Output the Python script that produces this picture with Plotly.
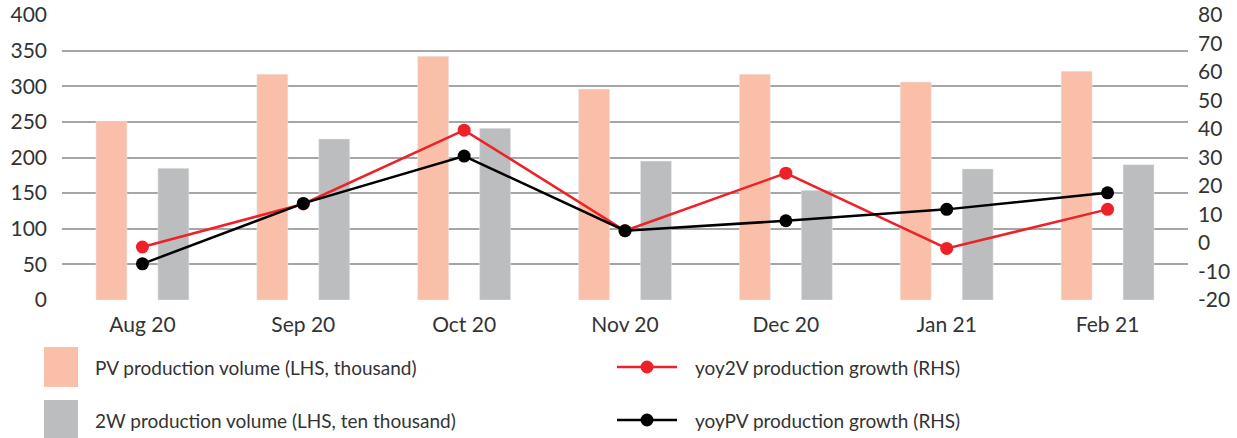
import plotly.graph_objects as go

months = ["Aug 20", "Sep 20", "Oct 20", "Nov 20", "Dec 20", "Jan 21", "Feb 21"]
pv_volume = [251, 317, 342, 296, 317, 306, 321]
w2_volume = [185, 226, 241, 195, 154, 184, 190]
yoy_2v = [-1.4, 13.7, 39.6, 4.3, 24.5, -1.9, 11.8]
yoy_pv = [-7.3, 13.9, 30.5, 4.3, 7.8, 11.8, 17.6]
left_ticks = [0, 50, 100, 150, 200, 250, 300, 350, 400]
right_ticks = [-20, -10, 0, 10, 20, 30, 40, 50, 60, 70, 80]

names = ["PV production volume (LHS, thousand)",
         "2W production volume (LHS, ten thousand)",
         "yoy2V production growth (RHS)",
         "yoyPV production growth (RHS)"]

C_PV = "#F9BFA8"
C_2W = "#BCBDBF"
C_RED = "#EE2128"
C_BLK = "#000000"
FONT = "Lato"
TXT = "#333333"

W, H = 1237, 438
# plot area in window pixels: x 62..1188, y 15..300
ML, MT = 62, 15
MR = W - 1188
MB = H - 300
PW, PH = W - ML - MR, H - MT - MB


def px(x):
    return (x - ML) / PW


def py(y):
    return (H - MB - y) / PH


fig = go.Figure()
fig.add_trace(go.Bar(x=months, y=pv_volume, name=names[0], marker_color=C_PV,
                     showlegend=False))
fig.add_trace(go.Bar(x=months, y=w2_volume, name=names[1], marker_color=C_2W,
                     showlegend=False))
fig.add_trace(go.Scatter(x=months, y=yoy_2v, name=names[2], yaxis="y2",
                         mode="lines+markers",
                         line=dict(color=C_RED, width=2.5),
                         marker=dict(color=C_RED, size=13), showlegend=False))
fig.add_trace(go.Scatter(x=months, y=yoy_pv, name=names[3], yaxis="y2",
                         mode="lines+markers",
                         line=dict(color=C_BLK, width=2.5),
                         marker=dict(color=C_BLK, size=13), showlegend=False))

shapes = []
annotations = []
rows = [367, 420]
for (color, row, label) in [(C_PV, rows[0], names[0]), (C_2W, rows[1], names[1])]:
    shapes.append(dict(type="rect", xref="paper", yref="paper",
                       x0=px(44), x1=px(78), y0=py(row - 20), y1=py(row + 20),
                       fillcolor=color, line=dict(width=0), layer="above"))
    annotations.append(dict(xref="paper", yref="paper", x=px(93), y=py(row),
                            xanchor="left", yanchor="middle", text=label,
                            showarrow=False, font=dict(family=FONT, size=19, color=TXT)))
for (color, row, label) in [(C_RED, rows[0], names[2]), (C_BLK, rows[1], names[3])]:
    shapes.append(dict(type="line", xref="paper", yref="paper",
                       x0=px(617), x1=px(677), y0=py(row), y1=py(row),
                       line=dict(color=color, width=2.5), layer="above"))
    shapes.append(dict(type="circle", xref="paper", yref="paper",
                       x0=px(647 - 6.5), x1=px(647 + 6.5), y0=py(row - 6.5), y1=py(row + 6.5),
                       fillcolor=color, line=dict(width=0), layer="above"))
    annotations.append(dict(xref="paper", yref="paper", x=px(693), y=py(row),
                            xanchor="left", yanchor="middle", text=label,
                            showarrow=False, font=dict(family=FONT, size=19, color=TXT)))

TF = dict(family=FONT, size=21, color=TXT)
fig.update_layout(
    width=W, height=H,
    margin=dict(l=ML, r=MR, t=MT, b=MB, autoexpand=False),
    paper_bgcolor="white", plot_bgcolor="white",
    barmode="group", bargap=0.23, bargroupgap=0.5,
    font=dict(family=FONT, size=19, color=TXT),
    xaxis=dict(showgrid=False, showline=False, ticks="", ticklabelstandoff=10,
               automargin=False, tickfont=TF),
    yaxis=dict(range=[0, 400], tickvals=left_ticks,
               ticktext=[str(v) for v in left_ticks],
               showgrid=True, gridcolor="#A6A6A6",
               gridwidth=1.5, zeroline=False, showline=False, ticks="",
               ticklabelstandoff=14, automargin=False, tickfont=TF,
               ticklabeloverflow="allow"),
    yaxis2=dict(range=[-20, 80], tickvals=right_ticks,
                ticktext=[str(v) for v in right_ticks], overlaying="y", side="right",
                showgrid=False, zeroline=False, showline=False, ticks="",
                ticklabelstandoff=9, automargin=False, tickfont=TF,
                ticklabeloverflow="allow"),
    shapes=shapes, annotations=annotations, showlegend=False,
)

fig.write_html("out.html",
               config={"displayModeBar": False},
               post_script="document.body.style.margin='0px';"
                           "document.body.style.overflow='hidden';")
